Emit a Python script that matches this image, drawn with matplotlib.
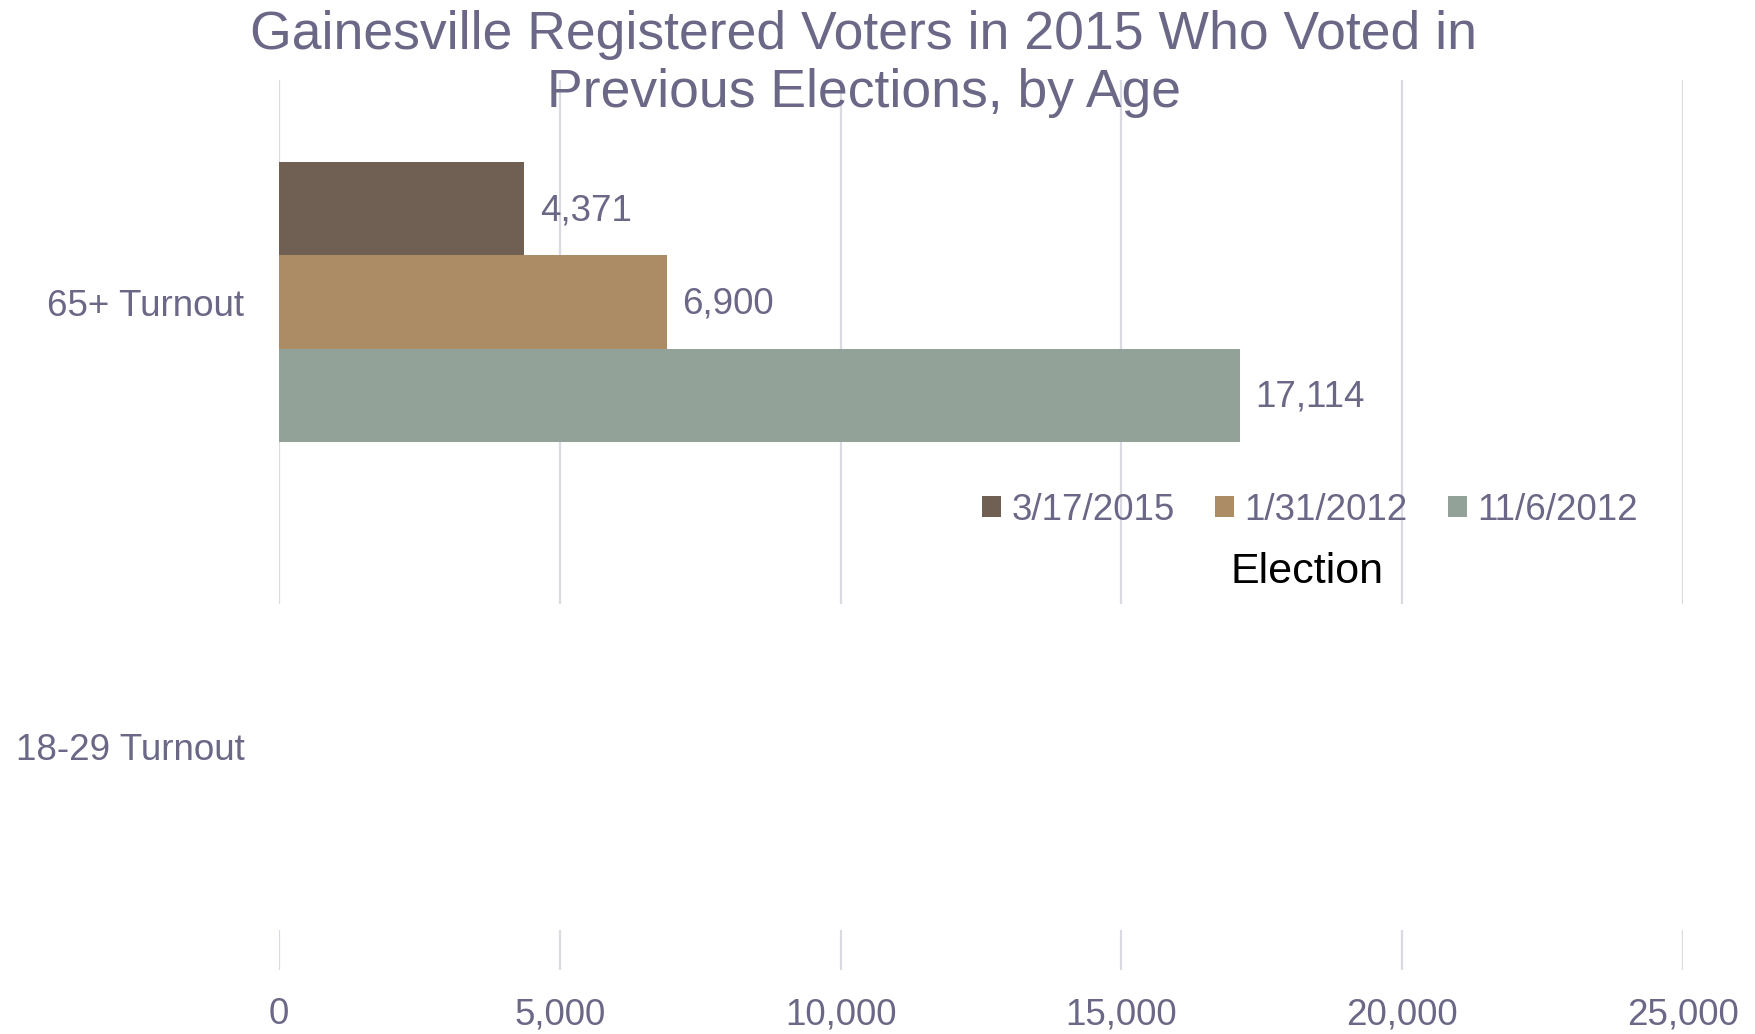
import matplotlib
matplotlib.use("Agg")
import matplotlib.pyplot as plt
import matplotlib.transforms as mtransforms
from matplotlib.patches import Rectangle
import numpy as np

plt.rcParams['font.family'] = ['Liberation Sans', 'DejaVu Sans']

# data
categories = ["18-29 Turnout", "65+ Turnout"]
elections = ["3/17/2015", "1/31/2012", "11/6/2012"]
turnout_2015_03 = [np.nan, 4371]
turnout_2012_01 = [np.nan, 6900]
turnout_2012_11 = [np.nan, 17114]
series = [turnout_2015_03, turnout_2012_01, turnout_2012_11]
colors = ["#705F53", "#AB8C64", "#93A298"]
xticks = [0, 5000, 10000, 15000, 20000, 25000]

text_color = "#6A6886"
W, H = 1756, 1034

fig = plt.figure(figsize=(W / 100, H / 100), dpi=100)
ax = fig.add_axes([279 / W, 1 - 969.5 / H, (1683 - 279) / W, (969.5 - 79.5) / H])

bar_h = 0.209
ypos = np.arange(len(categories))
for i, (vals, name, col) in enumerate(zip(series, elections, colors)):
    y = ypos + bar_h * (1 - i)
    bars = ax.barh(y, vals, height=bar_h, color=col, label=name, zorder=3,
                   edgecolor=col, linewidth=0)
    for b, v in zip(bars, vals):
        if np.isnan(v):
            continue
        ax.annotate("{:,}".format(int(v)), (v, b.get_y() + b.get_height() / 2),
                    xytext=(11, -1.5), textcoords="offset points",
                    va="center", ha="left", fontsize=26.5, color=text_color, zorder=4)

ax.set_xlim(0, 25000)
ax.set_ylim(-0.5, 1.5)
ax.set_xticks(xticks)
ax.set_xticklabels(["{:,}".format(t) for t in xticks])
ax.set_yticks(ypos)
ax.set_yticklabels(categories)
ax.tick_params(axis='x', length=0, pad=20, labelsize=26.5, labelcolor=text_color)
ax.tick_params(axis='y', length=0, pad=25, labelsize=26.5, labelcolor=text_color)
for s in ax.spines.values():
    s.set_visible(False)
ax.grid(axis='x', color="#DADAE2", linewidth=1.6, zorder=0)
ax.set_axisbelow(True)

# blank band across the lower part of the plot (as in the original)
trans = mtransforms.blended_transform_factory(ax.transAxes, ax.transData)
ax.add_patch(Rectangle((-0.01, -0.411), 1.02, 0.732, transform=trans,
                       facecolor="white", edgecolor="none", zorder=2, clip_on=False))

leg = ax.legend(loc="center", bbox_to_anchor=(1310 / W, 1 - 510 / H),
                bbox_transform=fig.transFigure, ncol=3, frameon=False,
                fontsize=26.5, handlelength=0.52, handleheight=0.5,
                handletextpad=0.27, columnspacing=1.1, borderpad=0)
for t in leg.get_texts():
    t.set_color(text_color)
leg.set_zorder(5)

fig.text(1307 / W, 1 - 572 / H, "Election", ha="center", va="center",
         fontsize=31, color="black")

fig.text(864 / W, 1 - 10 / H,
         "Gainesville Registered Voters in 2015 Who Voted in\nPrevious Elections, by Age",
         ha="center", va="top", fontsize=38.5, color=text_color, linespacing=1.2)

fig.savefig("out.png", dpi=100)
